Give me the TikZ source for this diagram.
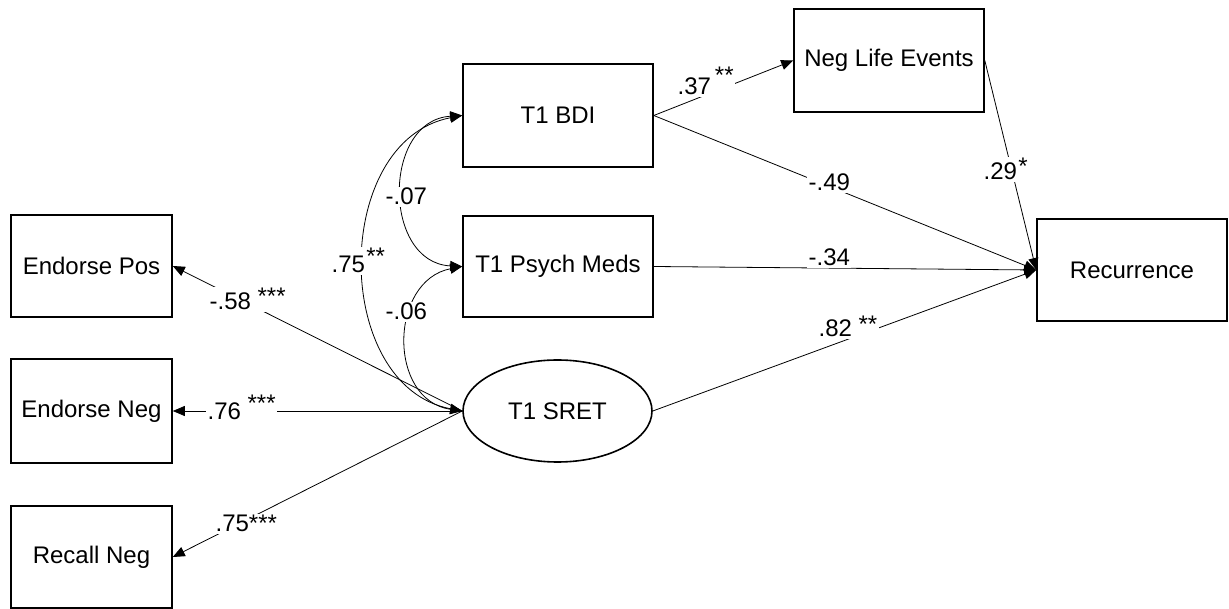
\documentclass[tikz,border=0pt]{standalone}
\usepackage{fontspec}
\setmainfont{Liberation Sans}
\usetikzlibrary{arrows.meta,shapes.geometric,calc}
\begin{document}
\begin{tikzpicture}[x=0.75pt,y=-0.75pt,
  every node/.style={font=\fontsize{18}{21}\selectfont},
  box/.style={draw, line width=1.2pt, inner sep=0pt, minimum width=142.5pt},
  sidebox/.style={draw, line width=1.2pt, inner sep=0pt, minimum width=120.75pt},
  conn/.style={line width=0.6pt, -{Triangle[length=9pt,width=7.5pt]}},
  corr/.style={line width=0.6pt, {Triangle[length=9pt,width=7.5pt]}-{Triangle[length=9pt,width=7.5pt]}},
  lab/.style={fill=white, inner sep=1pt, anchor=base west}]
\useasboundingbox (0,0) rectangle (1229,609);

% nodes
\node[sidebox, minimum height=76.5pt] (endpos) at (91.5,266) {Endorse Pos};
\node[sidebox, minimum height=78pt] (endneg) at (91.5,411) {Endorse Neg};
\node[sidebox, minimum height=76.5pt] (recneg) at (91.5,557) {Recall Neg};
\node[box, minimum height=77.25pt] (bdi) at (558,115.5) {T1 BDI};
\node[box, minimum height=75.75pt] (psych) at (558,266.5) {T1 Psych Meds};
\node[draw, ellipse, line width=1.2pt, inner sep=0pt, minimum width=141.75pt, minimum height=76.5pt] (sret) at (557.5,411) {T1 SRET};
\node[box, minimum height=77.25pt] (nle) at (889,60.5) {Neg Life Events};
\node[box, minimum height=76.5pt] (rec) at (1132,270) {Recurrence};

% loadings
\draw[conn] (sret.west) -- (endpos.east);
\draw[conn] (sret.west) -- (endneg.east);
\draw[conn] (sret.west) -- (recneg.east);
% structural paths
\draw[conn] (bdi.east) -- (nle.west);
\draw[conn] (bdi.east) -- (rec.west);
\draw[conn] (psych.east) -- (rec.west);
\draw[conn] (sret.east) -- (rec.west);
\draw[conn] (nle.east) -- (rec.west);
% correlations
\draw[corr] (bdi.west) .. controls ($(bdi.west)+(-80,5)$) and ($(psych.west)+(-80,-4)$) .. (psych.west);
\draw[corr] (psych.west) .. controls ($(psych.west)+(-73,14)$) and ($(sret.west)+(-75,-11)$) .. (sret.west);
\draw[corr] (bdi.west) .. controls ($(bdi.west)+(-131,25)$) and ($(sret.west)+(-131,-25)$) .. (sret.west);

% labels
\node[lab] (l58) at (208,310) {-.58 \raisebox{3.75pt}{***}};
\node[lab] (l76) at (206,420) {.76 \raisebox{6pt}{***}};
\node[lab] (l75a) at (214,532) {.75***};
\node[lab] (l75b) at (330,273) {.75\hspace{1pt}\raisebox{6pt}{**}};
\node[lab] (l07) at (384,205) {-.07};
\node[lab] (l06) at (384,320) {-.06};
\node[lab] (l37) at (676,95) {.37\,\raisebox{8.25pt}{**}};
\node[lab] (l49) at (807,191) {-.49};
\node[lab] (l34) at (807,266) {-.34};
\node[lab] (l29) at (982,180) {.29\hspace{1pt}\raisebox{3.75pt}{*}};
\node[lab] (l82) at (817,337) {.82 \raisebox{3pt}{**}};
\end{tikzpicture}
\end{document}
